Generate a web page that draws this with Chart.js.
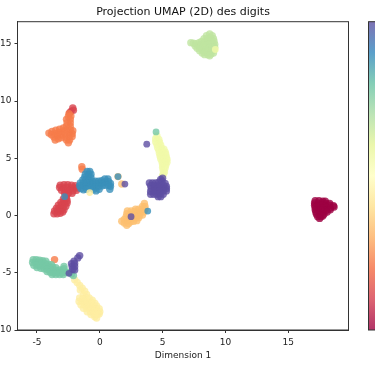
<!DOCTYPE html>
<html>
<head>
<meta charset="utf-8">
<script src="https://cdn.jsdelivr.net/npm/chart.js@4"></script>
<style>
  html, body { margin: 0; padding: 0; background: #fff; overflow: hidden; }
  #wrap { width: 375px; height: 366px; }
</style>
</head>
<body>
<div id="wrap"><canvas id="umap" width="375" height="366"></canvas></div>
<script>
// Spectral sampled at i/9, one per digit
const digitColors = ['#9e0142', '#d8434e', '#f67c4a', '#fdbf6f', '#feeda1', '#f1faa9', '#bfe5a0', '#76c8a5', '#3990ba', '#5e4fa2'];
// Full colour map for the bar
const barStops = ['#9e0142', '#d53e4f', '#f46d43', '#fdae61', '#fee08b', '#ffffbf', '#e6f598', '#abdda4', '#66c2a5', '#3288bd', '#5e4fa2'];
const xTicks = [-5, 0, 5, 10, 15];
const yTicks = [-10, -5, 0, 5, 10, 15];

// Points, [x, y]
const digit0 = [[17.15,1.3],[17.45,1.3],[17.75,1.25],[17.95,1.25],[17.1,1.1],[17.4,1.05],[17.7,1.1],[18.0,1.05],[18.3,1.05],[17.1,0.9],[17.4,0.85],[17.7,0.9],[18.0,0.85],[18.3,0.9],[18.6,0.85],[17.15,0.7],[17.45,0.65],[17.75,0.65],[18.05,0.7],[18.35,0.65],[18.65,0.75],[17.15,0.5],[17.45,0.45],[17.75,0.5],[18.05,0.45],[18.35,0.5],[17.2,0.3],[17.5,0.25],[17.8,0.3],[18.1,0.3],[17.25,0.1],[17.55,0.05],[17.85,0.1],[17.35,-0.1],[17.6,-0.1],[17.75,-0.05],[17.5,-0.25]];
const digit1 = [[-2.15,9.4],[-2.1,9.2],[-2.3,9.1],[-2.4,8.95],[-3.15,2.65],[-2.85,2.7],[-2.55,2.7],[-2.25,2.65],[-1.95,2.6],[-3.2,2.45],[-2.9,2.4],[-2.6,2.45],[-2.3,2.4],[-2.0,2.4],[-1.75,2.4],[-3.05,2.2],[-2.75,2.15],[-2.45,2.2],[-2.15,2.15],[-1.85,2.2],[-2.8,1.95],[-2.5,1.95],[-2.2,1.95],[-2.65,1.75],[-3.65,0.15],[-3.4,0.15],[-3.15,0.2],[-2.95,0.3],[-3.6,0.4],[-3.35,0.4],[-3.1,0.45],[-2.85,0.5],[-3.45,0.65],[-3.2,0.65],[-2.95,0.7],[-2.7,0.8],[-3.3,0.9],[-3.05,0.95],[-2.8,1.0],[-2.6,1.1],[-3.1,1.15],[-2.85,1.25],[-2.6,1.3],[-2.9,1.45],[-2.65,1.5]];
const digit2 = [[-4.05,7.2],[-3.8,7.35],[-3.5,7.45],[-3.2,7.55],[-2.9,7.65],[-2.65,7.8],[-2.35,7.8],[-3.85,7.05],[-3.55,7.15],[-3.25,7.25],[-2.95,7.35],[-2.65,7.45],[-2.35,7.5],[-2.15,7.4],[-3.65,6.85],[-3.35,6.95],[-3.05,7.05],[-2.75,7.15],[-2.45,7.2],[-2.2,7.15],[-3.55,6.6],[-3.3,6.7],[-3.05,6.8],[-2.75,6.85],[-2.45,6.9],[-2.2,6.9],[-2.65,6.6],[-2.4,6.6],[-2.5,6.35],[-2.6,8.1],[-2.35,8.1],[-2.65,8.4],[-2.35,8.4],[-2.5,8.65],[-2.3,8.7],[-2.45,8.9],[-1.43,4.27],[-1.4,4.05],[-3.6,-3.85]];
const digit3 = [[1.75,-0.5],[1.95,-0.65],[2.15,-0.85],[2.3,-0.7],[1.95,-0.35],[2.2,-0.45],[2.45,-0.55],[2.7,-0.5],[2.95,-0.45],[2.1,-0.1],[2.35,-0.15],[2.6,-0.2],[2.85,-0.2],[3.1,-0.2],[2.15,0.15],[2.4,0.1],[2.65,0.05],[2.9,0.05],[3.15,0.0],[3.4,0.05],[2.2,0.4],[2.5,0.4],[2.75,0.35],[3.0,0.3],[3.25,0.3],[3.5,0.3],[2.85,0.55],[3.1,0.55],[3.35,0.55],[3.6,0.55],[3.4,0.8],[3.6,0.8],[3.55,1.05],[1.75,2.75],[1.45,3.4]];
const digit4 = [[-2.0,-5.6],[-1.8,-5.85],[-1.6,-6.1],[-1.4,-6.35],[-1.2,-6.6],[-1.55,-6.5],[-1.05,-6.9],[-1.3,-6.95],[-1.6,-7.2],[-1.35,-7.25],[-1.1,-7.2],[-0.85,-7.2],[-0.6,-7.4],[-1.65,-7.5],[-1.4,-7.5],[-1.15,-7.5],[-0.9,-7.5],[-0.65,-7.6],[-0.4,-7.65],[-1.5,-7.8],[-1.25,-7.8],[-1.0,-7.8],[-0.75,-7.85],[-0.5,-7.9],[-0.25,-7.9],[-1.3,-8.1],[-1.05,-8.1],[-0.8,-8.1],[-0.55,-8.15],[-0.3,-8.15],[-0.05,-8.15],[-1.0,-8.4],[-0.75,-8.4],[-0.5,-8.4],[-0.25,-8.4],[-0.0,-8.4],[-0.7,-8.65],[-0.45,-8.65],[-0.2,-8.65],[-0.05,-8.6],[-0.4,-8.85],[-0.25,-8.95]];
const digit5 = [[4.55,6.95],[4.45,6.7],[4.7,6.65],[4.45,6.45],[4.75,6.4],[4.55,6.2],[4.85,6.15],[4.6,5.95],[4.9,5.9],[5.1,5.8],[4.7,5.7],[4.95,5.65],[5.2,5.55],[4.75,5.45],[5.0,5.4],[5.25,5.35],[4.8,5.2],[5.05,5.15],[5.3,5.1],[4.85,4.95],[5.1,4.9],[5.35,4.9],[4.95,4.7],[5.2,4.65],[5.35,4.65],[5.0,4.45],[5.25,4.4],[5.0,4.2],[5.2,4.15],[5.05,3.95],[5.15,3.8],[5.05,3.6],[5.0,3.45]];
const digit6 = [[7.25,15.1],[7.45,15.05],[7.65,15.0],[7.9,15.1],[8.1,15.2],[8.3,15.45],[8.5,15.7],[8.75,15.85],[8.95,15.7],[8.55,15.45],[8.8,15.55],[9.05,15.45],[7.6,14.8],[7.85,14.85],[8.1,14.95],[8.35,15.15],[8.6,15.2],[8.85,15.25],[9.1,15.2],[7.75,14.6],[8.0,14.65],[8.25,14.75],[8.5,14.9],[8.75,14.95],[9.0,14.95],[9.15,14.95],[7.95,14.4],[8.2,14.45],[8.45,14.55],[8.7,14.65],[8.95,14.7],[9.15,14.7],[8.15,14.2],[8.4,14.25],[8.65,14.35],[8.9,14.4],[9.1,14.45],[8.35,14.05],[8.6,14.05],[8.85,14.1],[9.05,14.2],[8.75,13.95]];
const digit7 = [[-5.3,-3.85],[-5.05,-3.85],[-4.8,-3.9],[-4.55,-3.95],[-4.3,-4.0],[-5.35,-4.1],[-5.1,-4.1],[-4.85,-4.15],[-4.6,-4.15],[-4.35,-4.2],[-4.1,-4.25],[-3.85,-4.3],[-5.25,-4.35],[-5.0,-4.35],[-4.75,-4.4],[-4.5,-4.4],[-4.25,-4.45],[-4.0,-4.5],[-3.75,-4.5],[-3.5,-4.55],[-5.0,-4.55],[-4.7,-4.6],[-4.45,-4.65],[-4.2,-4.7],[-3.95,-4.75],[-3.7,-4.75],[-3.45,-4.8],[-3.2,-4.75],[-2.95,-4.75],[-2.85,-4.45],[-2.85,-4.65],[-4.2,-4.9],[-3.95,-4.95],[-3.7,-5.0],[-3.45,-5.0],[-3.2,-5.0],[-2.95,-5.0],[-2.7,-4.95],[-3.8,-5.15],[-3.5,-5.15],[-3.2,-5.15],[-2.9,-5.15],[-2.45,-4.95],[-2.25,-5.1],[-2.1,-5.25]];
const digit8 = [[-1.0,3.85],[-0.8,3.85],[-1.15,3.6],[-0.9,3.6],[-0.7,3.6],[-1.2,3.35],[-0.95,3.35],[-0.7,3.3],[-1.35,3.1],[-1.1,3.1],[-0.85,3.05],[-0.6,3.0],[-0.35,3.0],[-0.1,3.0],[0.15,3.05],[0.4,3.2],[0.65,3.2],[-1.55,2.85],[-1.3,2.85],[-1.05,2.8],[-0.8,2.8],[-0.55,2.75],[-0.3,2.75],[-0.05,2.8],[0.2,2.85],[0.45,2.9],[0.7,2.95],[0.85,2.8],[-1.6,2.6],[-1.35,2.6],[-1.1,2.55],[-0.85,2.5],[-0.55,2.5],[-0.3,2.5],[-0.05,2.55],[0.2,2.6],[0.45,2.65],[0.7,2.65],[0.85,2.55],[-1.5,2.35],[-1.3,2.25],[-1.05,2.3],[-0.5,2.3],[-0.3,2.15],[-0.05,2.3],[0.8,2.3]];
const digit9 = [[3.95,2.85],[4.2,2.85],[4.45,2.85],[4.7,2.9],[4.95,3.0],[5.0,3.25],[4.85,3.15],[5.2,2.8],[4.05,2.6],[4.3,2.6],[4.55,2.6],[4.8,2.65],[5.05,2.65],[5.3,2.55],[4.1,2.35],[4.35,2.35],[4.6,2.35],[4.85,2.4],[5.1,2.4],[5.3,2.35],[4.05,2.1],[4.3,2.1],[4.55,2.1],[4.8,2.15],[5.05,2.15],[5.3,2.15],[4.05,1.85],[4.3,1.85],[4.55,1.85],[4.8,1.9],[5.05,1.85],[4.65,1.65],[4.85,1.65],[-1.6,-3.5],[-1.75,-3.7],[-2.05,-4.0],[-2.25,-4.2],[-2.0,-4.2],[-2.2,-4.45],[-2.0,-4.45],[-2.15,-4.7],[-2.0,-4.75]];
const digitPoints = [digit0, digit1, digit2, digit3, digit4, digit5, digit6, digit7, digit8, digit9];

// Misplaced points that sit over other clusters, [x, y, digit]
const strays = [[4.48,7.3,7],[3.74,6.23,9],[1.45,3.4,8],[2.0,2.75,9],[2.49,-0.1,9],[3.82,0.39,8],[-2.8,1.65,8],[-0.8,2.0,4],[-2.45,-5.05,9],[9.2,14.5,5]];

const withAlpha = (hex, a) => {
  const n = parseInt(hex.slice(1), 16);
  return `rgba(${n >> 16},${(n >> 8) & 255},${n & 255},${a})`;
};

const datasets = digitPoints.map((pts, i) => ({
  label: String(i),
  data: pts.map(p => ({ x: p[0], y: p[1] })),
  backgroundColor: withAlpha(digitColors[i], 0.8),
  borderWidth: 0,
  pointRadius: 3.7,
  order: 10 - i
}));
datasets.push({
  label: 'strays',
  data: strays.map(p => ({ x: p[0], y: p[1] })),
  backgroundColor: strays.map(p => withAlpha(digitColors[p[2]], 0.8)),
  borderWidth: 0,
  pointRadius: 3.4,
  order: 0
});

// Plot frame and the colour bar on the right edge
const framePlugin = {
  id: 'frame',
  afterDraw(chart) {
    const { ctx, chartArea: a } = chart;
    ctx.save();
    ctx.strokeStyle = '#333';
    ctx.lineWidth = 1;
    ctx.strokeRect(a.left, a.top, a.right - a.left, a.bottom - a.top);
    const g = ctx.createLinearGradient(0, a.bottom, 0, a.top);
    barStops.forEach((c, i) => g.addColorStop(i / 10, withAlpha(c, 0.8)));
    ctx.fillStyle = g;
    ctx.fillRect(369, a.top, 8, a.bottom - a.top);
    ctx.strokeRect(368.5, a.top, 10, a.bottom - a.top);
    ctx.restore();
  }
};

new Chart(document.getElementById('umap'), {
  type: 'scatter',
  data: { datasets },
  plugins: [framePlugin],
  options: {
    responsive: false,
    animation: false,
    layout: { padding: { top: 0, right: 26.5, bottom: 0, left: 0 } },
    plugins: {
      legend: { display: false },
      tooltip: { enabled: false },
      title: {
        display: true,
        text: 'Projection UMAP (2D) des digits',
        fullSize: false,
        color: '#111',
        font: { family: 'DejaVu Sans', size: 11, weight: 'normal' },
        padding: { top: 6, bottom: 2.5 }
      }
    },
    scales: {
      x: {
        type: 'linear',
        min: -6.55,
        max: 19.8,
        afterFit: s => { s.height = 36; },
        afterBuildTicks: s => { s.ticks = xTicks.map(v => ({ value: v })); },
        grid: { drawOnChartArea: false, tickLength: 3, color: '#333' },
        border: { color: '#333' },
        ticks: { color: '#222', font: { family: 'DejaVu Sans', size: 9 }, maxRotation: 0, padding: 4 },
        title: { display: true, text: 'Dimension 1', color: '#222', font: { family: 'DejaVu Sans', size: 9 }, padding: { top: 2, bottom: 5 } }
      },
      y: {
        type: 'linear',
        min: -10,
        max: 16.93,
        afterFit: s => { s.width = 17.5; },
        afterBuildTicks: s => { s.ticks = yTicks.map(v => ({ value: v })); },
        grid: { drawOnChartArea: false, tickLength: 3, color: '#333' },
        border: { color: '#333' },
        ticks: { color: '#222', font: { family: 'DejaVu Sans', size: 9 }, padding: 3 }
      }
    }
  }
});
</script>
</body>
</html>
